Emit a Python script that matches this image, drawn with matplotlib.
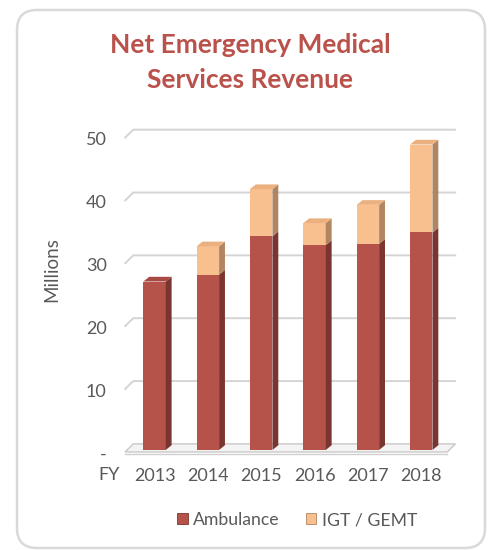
import matplotlib
matplotlib.use('Agg')
import matplotlib.pyplot as plt
from matplotlib.patches import Polygon, FancyBboxPatch, Patch
from matplotlib.transforms import IdentityTransform
import numpy as np

# Data (millions)
years = ['2013', '2014', '2015', '2016', '2017', '2018']
ambulance = [26.8, 27.9, 34.0, 32.6, 32.8, 34.6]
igt_gemt = [0.0, 4.5, 7.5, 3.5, 6.2, 14.0]
y_ticks = [0, 10, 20, 30, 40, 50]
y_tick_labels = ['-', '10', '20', '30', '40', '50']

# Colours
amb_front, amb_side, amb_top = '#B5534B', '#7A3530', '#A84A43'
igt_front, igt_side, igt_top = '#F9C08F', '#B08662', '#EBB07F'
grid_col = '#D4D4D4'
text_col = '#595959'
title_col = '#BA514A'

plt.rcParams['font.family'] = ['Lato', 'DejaVu Sans']

W, H = 488, 550
fig = plt.figure(figsize=(W / 100, H / 100), dpi=100)
fig.patch.set_facecolor('white')

# rounded chart border, in pixels
border = FancyBboxPatch((17, 2), 468, 538, boxstyle='round,pad=0,rounding_size=20',
                        transform=IdentityTransform(), facecolor='none',
                        edgecolor='#D9D9D9', linewidth=1.8)
fig.patches.append(border)

ax_l, ax_r, ax_t, ax_b = 122, 465, 120, 460
ax = fig.add_axes([ax_l / W, 1 - ax_b / H, (ax_r - ax_l) / W, (ax_b - ax_t) / H])
ax.set_xlim(-0.61, 5.82)
ax.set_ylim(-1.6, 52.5)
for s in ax.spines.values():
    s.set_visible(False)

x = np.arange(len(years))
bw = 0.42
dx, dy = 0.11, 0.75      # depth of the fake 3D faces
back_dx, back_dy = 0.153, 1.28
x0_front, x1_back = -0.553, 5.64

# floor
floor = Polygon([(x0_front, -0.32), (x0_front + back_dx, -0.32 + back_dy),
                 (x1_back, -0.32 + back_dy), (x1_back - back_dx, -0.32)],
                closed=True, facecolor='#F4F4F4', edgecolor='#C8C8C8', lw=1.0, zorder=1)
ax.add_patch(floor)
ax.plot([x0_front, x1_back - back_dx], [-0.62, -0.62], color='#D0D0D0', lw=1.0, zorder=1)

# back wall gridlines
for t in y_ticks[1:]:
    ax.plot([x0_front, x0_front + back_dx, x1_back],
            [t - 0.32, t - 0.32 + back_dy, t - 0.32 + back_dy],
            color=grid_col, lw=1.4, zorder=1, solid_capstyle='round')

# front faces
ax.bar(x, ambulance, width=bw, color=amb_front, zorder=3, linewidth=0)
ax.bar(x, igt_gemt, width=bw, bottom=ambulance, color=igt_front, zorder=3, linewidth=0)

# side and top faces
for xi, a, g in zip(x, ambulance, igt_gemt):
    r = xi + bw / 2
    l = xi - bw / 2
    segs = [(0, a, amb_side)]
    if g > 0:
        segs.append((a, a + g, igt_side))
    for y0, y1, c in segs:
        ax.add_patch(Polygon([(r, y0), (r + dx, y0 + dy), (r + dx, y1 + dy), (r, y1)],
                             closed=True, facecolor=c, edgecolor='none', zorder=3))
    top = a + g
    tc = igt_top if g > 0 else amb_top
    ax.add_patch(Polygon([(l, top), (l + dx, top + dy), (r + dx, top + dy), (r, top)],
                         closed=True, facecolor=tc, edgecolor='none', zorder=3))

# axes ticks
ax.set_yticks(np.array(y_ticks) - 0.48)
ax.set_yticklabels(y_tick_labels)
ax.set_xticks(x)
ax.set_xticklabels(years)
ax.tick_params(axis='both', length=0, labelsize=13, colors=text_col)
ax.tick_params(axis='y', pad=11)
ax.tick_params(axis='x', pad=6)

fig.text(109 / W, 1 - 475 / H, 'FY', ha='center', va='center', fontsize=13, color=text_col)

fig.text(52 / W, 1 - 270 / H, 'Millions', rotation=90, ha='center', va='center',
         fontsize=13.5, color=text_col)

# title, two lines
fig.text(250 / W, 1 - 45 / H, 'Net Emergency Medical', ha='center', va='center',
         fontsize=19, fontweight='bold', color=title_col)
fig.text(250 / W, 1 - 80 / H, 'Services Revenue', ha='center', va='center',
         fontsize=19, fontweight='bold', color=title_col)

handles = [Patch(facecolor=amb_front, edgecolor=amb_side, lw=0.6, label='Ambulance'),
           Patch(facecolor=igt_front, edgecolor=igt_side, lw=0.6, label='IGT / GEMT')]
fig.legend(handles=handles, loc='center', bbox_to_anchor=(297 / W, 1 - 520 / H), ncol=2,
           frameon=False, fontsize=12.7, handlelength=0.6, handleheight=0.6,
           handletextpad=0.3, columnspacing=1.5, labelcolor=text_col)

fig.savefig('out.png', dpi=100)
